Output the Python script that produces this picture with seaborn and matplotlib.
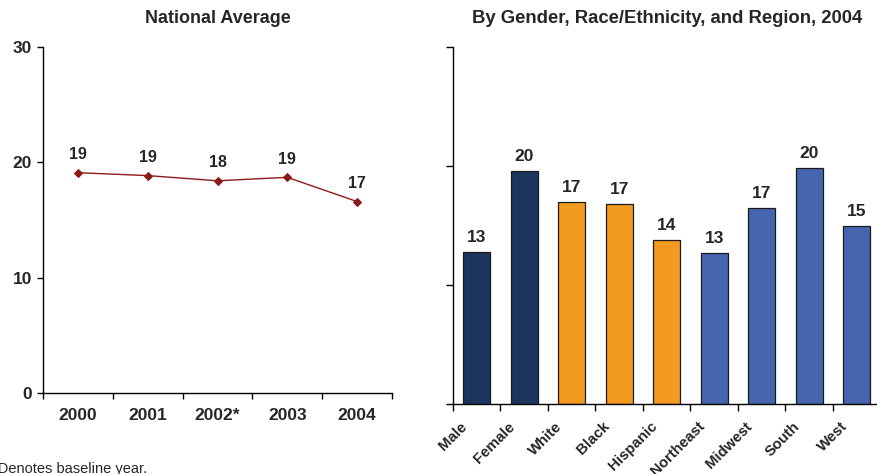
import matplotlib
matplotlib.use("Agg")
import matplotlib.pyplot as plt
import seaborn as sns

# National average by year
years = ["2000", "2001", "2002*", "2003", "2004"]
national = [19.1, 18.85, 18.4, 18.7, 16.6]
national_labels = ["19", "19", "18", "19", "17"]

# 2004 breakdown by gender, race/ethnicity and region
groups = ["Male", "Female", "White", "Black", "Hispanic",
          "Northeast", "Midwest", "South", "West"]
group_values = [12.8, 19.6, 17.0, 16.8, 13.8, 12.7, 16.5, 19.8, 15.0]
group_labels = ["13", "20", "17", "17", "14", "13", "17", "20", "15"]
group_colors = ["#1B355E", "#1B355E", "#F39A21", "#F39A21", "#F39A21",
                "#4565AF", "#4565AF", "#4565AF", "#4565AF"]

sns.set_theme(style="white")
plt.rcParams["font.family"] = ["Liberation Sans", "DejaVu Sans"]

W, H = 878, 474
fig = plt.figure(figsize=(W / 100, H / 100), dpi=100)

ax1 = fig.add_axes([43 / W, (H - 393) / H, 349 / W, 346 / H])
ax2 = fig.add_axes([453 / W, (H - 404) / H, 427.5 / W, 357 / H])

line_color = "#8B1A1A"

# ---- Left panel: line chart ----
sns.pointplot(x=years, y=national, ax=ax1, color=line_color, markers="D",
              markersize=4, linewidth=1.0, errorbar=None)
for i, (v, lab) in enumerate(zip(national, national_labels)):
    ax1.annotate(lab, (i, v), xytext=(0, 7.5), textcoords="offset points",
                 ha="center", va="bottom", fontsize=11.5, fontweight="bold")

ax1.set_ylim(0, 30)
ax1.set_yticks([0, 10, 20, 30])
ax1.set_yticklabels(["0", "10", "20", "30"], fontsize=12.5, fontweight="bold")
ax1.set_xlim(-0.5, len(years) - 0.5)
ax1.set_xticks([i - 0.5 for i in range(len(years) + 1)])
ax1.set_xticklabels([])
ax1.set_xticks(range(len(years)), minor=True)
ax1.set_xticklabels(years, minor=True, fontsize=12.5, fontweight="bold")
ax1.tick_params(axis="x", which="minor", length=0, pad=10.5)
ax1.tick_params(axis="x", which="major", length=4, width=1, color="black",
                direction="out", bottom=True)
ax1.tick_params(axis="y", length=4, width=1, color="black", direction="out",
                left=True, pad=4)
ax1.set_xlabel("")
ax1.set_ylabel("")
ax1.set_title("National Average", fontsize=13, fontweight="bold", pad=17)

# ---- Right panel: bar chart ----
sns.barplot(x=groups, y=group_values, hue=groups, palette=group_colors,
            legend=False, ax=ax2, width=0.575, edgecolor="#1a1a1a",
            linewidth=0.9, saturation=1)
for i, (v, lab) in enumerate(zip(group_values, group_labels)):
    ax2.annotate(lab, (i, v), xytext=(0, 5), textcoords="offset points",
                 ha="center", va="bottom", fontsize=12.5, fontweight="bold")

ax2.set_ylim(0, 30)
ax2.set_yticks([0, 10, 20, 30])
ax2.set_yticklabels([])
ax2.set_xlim(-0.5, len(groups) - 0.5)
ax2.set_xticks([i - 0.5 for i in range(len(groups) + 1)])
ax2.set_xticklabels([])
# Category names, slanted, hanging below and left of each bar
for i, name in enumerate(groups):
    ax2.annotate(name, (i, 0), xycoords=("data", "axes fraction"),
                 xytext=(-12, -11), textcoords="offset points",
                 ha="right", va="top", rotation=45, rotation_mode="anchor",
                 fontsize=10.8, fontweight="bold", annotation_clip=False)
ax2.tick_params(axis="x", which="major", length=5, width=1, color="black",
                direction="out", bottom=True)
ax2.tick_params(axis="y", length=5, width=1, color="black", direction="out",
                left=True)
ax2.set_xlabel("")
ax2.set_ylabel("")
ax2.set_title("By Gender, Race/Ethnicity, and Region, 2004", fontsize=13.3,
              fontweight="bold", pad=17)

for ax in (ax1, ax2):
    for side in ("top", "right"):
        ax.spines[side].set_visible(False)
    for side in ("left", "bottom"):
        ax.spines[side].set_color("black")
        ax.spines[side].set_linewidth(1.0)
    ax.grid(False)

fig.text(-12 / W, 1 / H, "* Denotes baseline year.", fontsize=10.5,
         ha="left", va="baseline")

fig.savefig("out.png", dpi=100)
